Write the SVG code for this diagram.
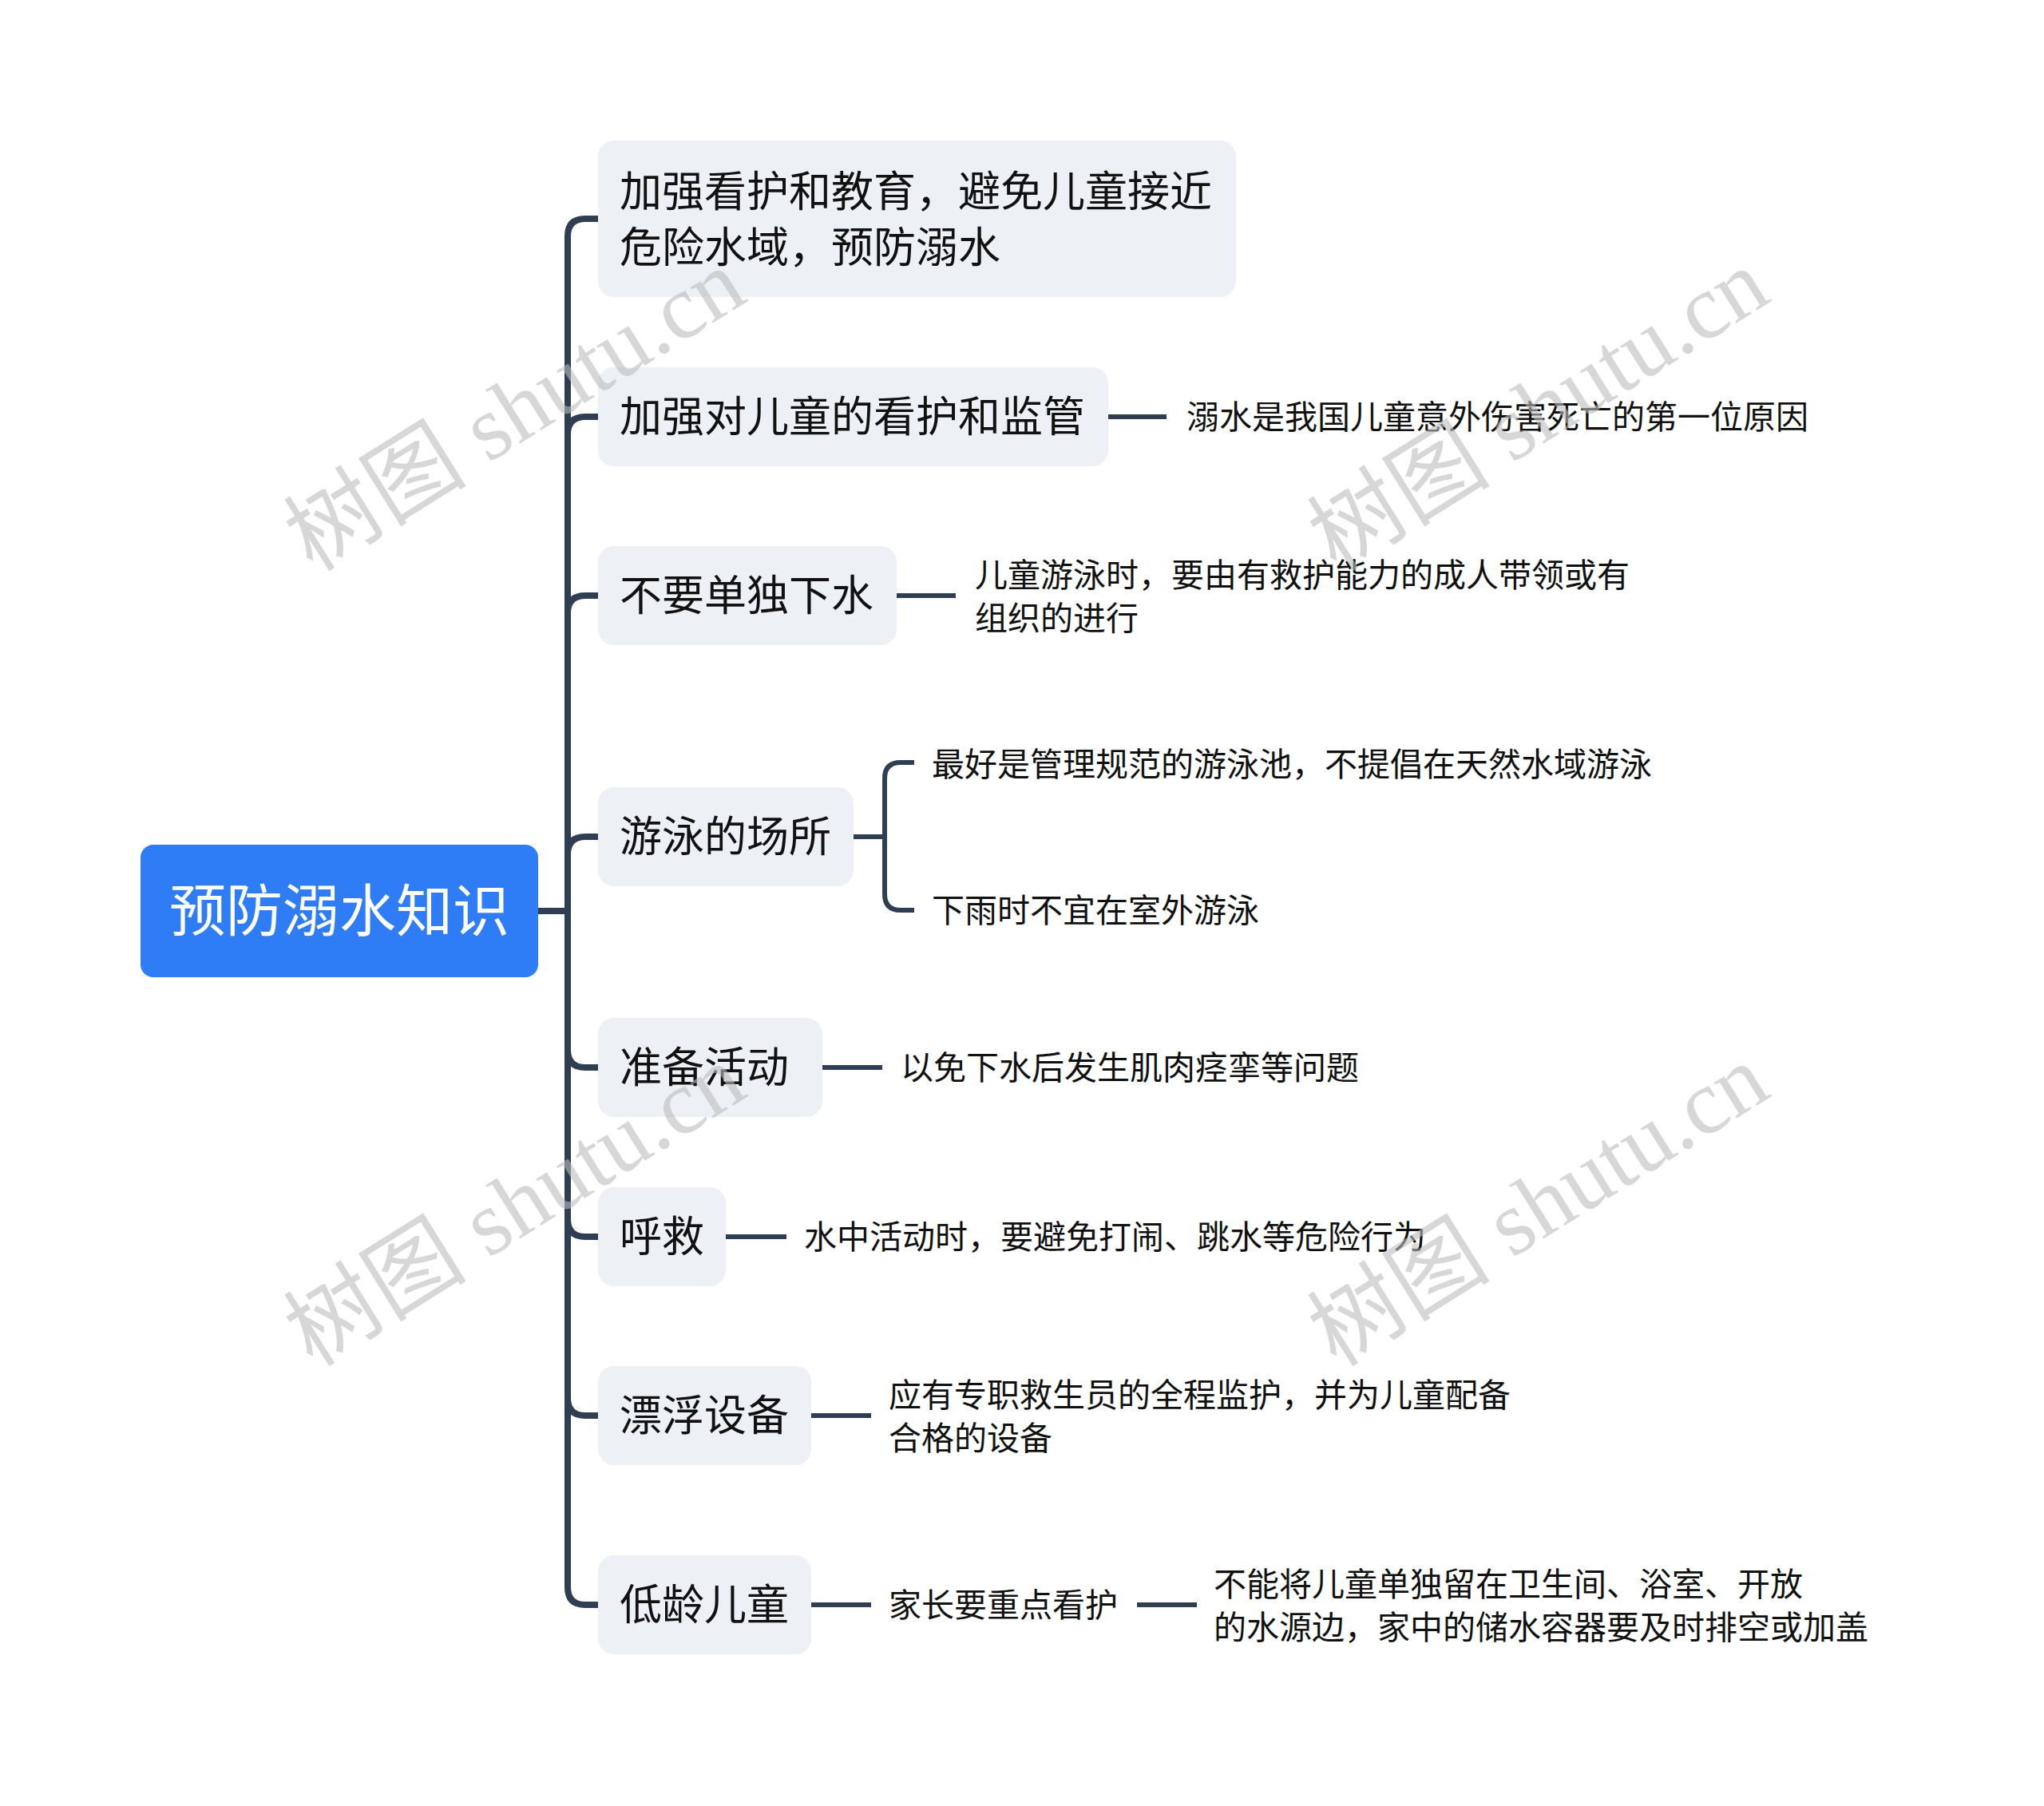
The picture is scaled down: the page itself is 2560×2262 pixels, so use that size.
<svg xmlns="http://www.w3.org/2000/svg" width="2560" height="2262" viewBox="0 0 2560 2262">
<style>
.bg{fill:#ffffff}
.box{fill:#edf0f4}
.root{fill:#2f7df6}
.t{font-family:"Noto Sans CJK SC","Noto Sans",sans-serif;fill:#111111}
.t1{font-size:53px}
.t2{font-size:41px}
.tr{font-family:"Noto Sans CJK SC","Noto Sans",sans-serif;font-size:71px;fill:#ffffff}
.ln{fill:none;stroke:#2f3e53;stroke-width:8;stroke-linecap:butt;stroke-linejoin:round}
.ln2{fill:none;stroke:#2f3e53;stroke-width:6}
.wm{font-family:"Liberation Serif","Noto Sans CJK SC",serif;font-size:115px;fill:#bdbdbd;fill-opacity:0.6}
</style>
<rect class="bg" x="0" y="0" width="2560" height="2262"/>
<g id="connectors">
<path class="ln" d="M674 1141 H711"/>
<path class="ln" d="M749 274 H733 Q711 274 711 296 V1988 Q711 2010 733 2010 H749"/>
<path class="ln" d="M749 522 H733 Q711 522 711 544"/>
<path class="ln" d="M749 746 H733 Q711 746 711 768"/>
<path class="ln" d="M749 1048 H733 Q711 1048 711 1070"/>
<path class="ln" d="M711 1315 Q711 1337 733 1337 H749"/>
<path class="ln" d="M711 1527 Q711 1549 733 1549 H749"/>
<path class="ln" d="M711 1751 Q711 1773 733 1773 H749"/>
<path class="ln2" d="M1388 522 H1461"/>
<path class="ln2" d="M1123 746 H1197"/>
<path class="ln2" d="M1069 1048 H1108"/>
<path class="ln2" d="M1145 955 H1128 Q1108 955 1108 975 V1120 Q1108 1140 1128 1140 H1145"/>
<path class="ln2" d="M1030 1337 H1105"/>
<path class="ln2" d="M909 1549 H985"/>
<path class="ln2" d="M1016 1773 H1091"/>
<path class="ln2" d="M1016 2010 H1091"/>
<path class="ln2" d="M1424 2010 H1499"/>
</g>
<g id="root">
<rect class="root" x="176" y="1058" width="498" height="166" rx="16"/>
<text class="tr" x="425" y="1166" text-anchor="middle">预防溺水知识</text>
</g>
<g id="n1">
<rect class="box" x="749" y="176" width="799" height="196" rx="20"/>
<text class="t t1" x="776" y="259">加强看护和教育，避免儿童接近</text>
<text class="t t1" x="776" y="329">危险水域，预防溺水</text>
</g>
<g id="n2">
<rect class="box" x="749" y="460" width="639" height="124" rx="20"/>
<text class="t t1" x="776" y="541">加强对儿童的看护和监管</text>
</g>
<g id="n2a"><text class="t t2" x="1486" y="537">溺水是我国儿童意外伤害死亡的第一位原因</text></g>
<g id="n3">
<rect class="box" x="749" y="684" width="374" height="124" rx="20"/>
<text class="t t1" x="776" y="765">不要单独下水</text>
</g>
<g id="n3a">
<text class="t t2" x="1221" y="735">儿童游泳时，要由有救护能力的成人带领或有</text>
<text class="t t2" x="1221" y="789">组织的进行</text>
</g>
<g id="n4">
<rect class="box" x="749" y="986" width="320" height="124" rx="20"/>
<text class="t t1" x="776" y="1067">游泳的场所</text>
</g>
<g id="n4a"><text class="t t2" x="1167" y="972">最好是管理规范的游泳池，不提倡在天然水域游泳</text></g>
<g id="n4b"><text class="t t2" x="1167" y="1155">下雨时不宜在室外游泳</text></g>
<g id="n5">
<rect class="box" x="749" y="1275" width="281" height="124" rx="20"/>
<text class="t t1" x="776" y="1356">准备活动</text>
</g>
<g id="n5a"><text class="t t2" x="1128" y="1352">以免下水后发生肌肉痉挛等问题</text></g>
<g id="n6">
<rect class="box" x="749" y="1487" width="160" height="124" rx="20"/>
<text class="t t1" x="776" y="1568">呼救</text>
</g>
<g id="n6a"><text class="t t2" x="1007" y="1564">水中活动时，要避免打闹、跳水等危险行为</text></g>
<g id="n7">
<rect class="box" x="749" y="1711" width="267" height="124" rx="20"/>
<text class="t t1" x="776" y="1792">漂浮设备</text>
</g>
<g id="n7a">
<text class="t t2" x="1113" y="1762">应有专职救生员的全程监护，并为儿童配备</text>
<text class="t t2" x="1113" y="1816">合格的设备</text>
</g>
<g id="n8">
<rect class="box" x="749" y="1948" width="267" height="124" rx="20"/>
<text class="t t1" x="776" y="2029">低龄儿童</text>
</g>
<g id="n8a"><text class="t t2" x="1113" y="2025">家长要重点看护</text></g>
<g id="n8b">
<text class="t t2" x="1520" y="1999">不能将儿童单独留在卫生间、浴室、开放</text>
<text class="t t2" x="1520" y="2053">的水源边，家中的储水容器要及时排空或加盖</text>
</g>
<g id="watermarks">
<text class="wm" text-anchor="middle" dominant-baseline="central" transform="translate(645 514) rotate(-32)">树图 shutu.cn</text>
<text class="wm" text-anchor="middle" dominant-baseline="central" transform="translate(1927 514) rotate(-32)">树图 shutu.cn</text>
<text class="wm" text-anchor="middle" dominant-baseline="central" transform="translate(645 1510) rotate(-32)">树图 shutu.cn</text>
<text class="wm" text-anchor="middle" dominant-baseline="central" transform="translate(1927 1510) rotate(-32)">树图 shutu.cn</text>
</g>
</svg>
